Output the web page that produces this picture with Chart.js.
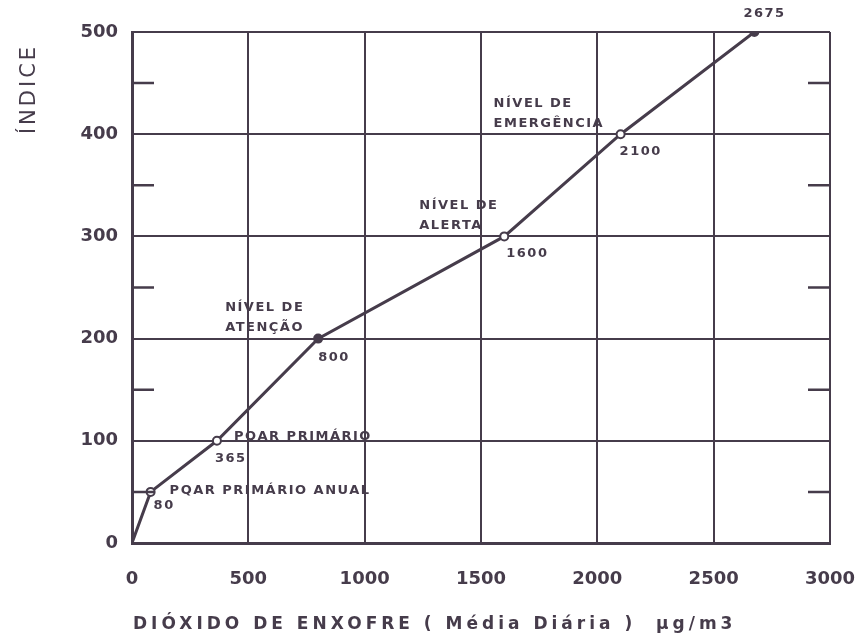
<!DOCTYPE html>
<html>
<head>
<meta charset="utf-8">
<script src="https://cdn.jsdelivr.net/npm/chart.js@4/dist/chart.umd.min.js"></script>
<style>
  html, body { margin: 0; padding: 0; background: #fff; }
  #wrap { width: 868px; height: 643px; position: relative; }
</style>
</head>
<body>
<div id="wrap"><canvas id="indexChart"></canvas></div>
<script>
// SO2 concentration (ug/m3, daily mean) vs air quality index
const so2Values   = [0, 80, 365, 800, 1600, 2100, 2675];
const indexValues = [0, 50, 100, 200, 300, 400, 500];

const xTickValues = [0, 500, 1000, 1500, 2000, 2500, 3000];
const yTickValues = [0, 100, 200, 300, 400, 500];
const yMinorTicks = [50, 150, 250, 350, 450];

const levelNames  = ['', 'PQAR PRIMÁRIO ANUAL', 'PQAR PRIMÁRIO', 'NÍVEL DE|ATENÇÃO', 'NÍVEL DE|ALERTA', 'NÍVEL DE|EMERGÊNCIA', ''];
const valueLabels = ['', '80', '365', '800', '1600', '2100', '2675'];

const xTitle = 'DIÓXIDO DE ENXOFRE ( Média Diária )  µg/m3';
const yTitle = 'ÍNDICE';

const INK = '#463c4b';

// where each note sits relative to its point [dx, dy]
const noteLayout = [
  null,
  { name: [19, -1],   value: [3, 14] },
  { name: [17, -4],   value: [-2, 18] },
  { name: [-93, -31], value: [0, 19] },
  { name: [-85, -31], value: [2, 17] },
  { name: [-127, -31], value: [-1, 17] },
  { name: null,       value: [-11, -18] },
];

const minorTicks = {
  id: 'minorTicks',
  afterDatasetsDraw(chart) {
    const { ctx, chartArea, scales } = chart;
    ctx.save();
    ctx.strokeStyle = INK;
    ctx.lineWidth = 2.5;
    yMinorTicks.forEach(v => {
      const y = scales.y.getPixelForValue(v);
      ctx.beginPath();
      ctx.moveTo(chartArea.left, y);
      ctx.lineTo(chartArea.left + 22, y);
      ctx.moveTo(chartArea.right, y);
      ctx.lineTo(chartArea.right - 22, y);
      ctx.stroke();
    });
    ctx.restore();
  }
};

const notes = {
  id: 'notes',
  afterDatasetsDraw(chart) {
    const { ctx, scales } = chart;
    ctx.save();
    ctx.fillStyle = INK;
    ctx.textAlign = 'left';
    ctx.textBaseline = 'middle';
    ctx.font = 'bold 13px "DejaVu Sans"';
    ctx.letterSpacing = '1.5px';
    so2Values.forEach((v, i) => {
      const lay = noteLayout[i];
      if (!lay) return;
      const px = scales.x.getPixelForValue(v);
      const py = scales.y.getPixelForValue(indexValues[i]);
      if (lay.name && levelNames[i]) {
        levelNames[i].split('|').forEach((line, k) => {
          ctx.fillText(line, px + lay.name[0], py + lay.name[1] + k * 20);
        });
      }
      if (lay.value && valueLabels[i]) {
        ctx.fillText(valueLabels[i], px + lay.value[0], py + lay.value[1]);
      }
    });
    ctx.restore();
  }
};

const axisTitles = {
  id: 'axisTitles',
  afterDraw(chart) {
    const { ctx, chartArea } = chart;
    ctx.save();
    ctx.fillStyle = INK;
    ctx.textBaseline = 'middle';
    ctx.font = '21px "DejaVu Sans"';
    ctx.letterSpacing = '3px';
    ctx.translate(30, 89);
    ctx.rotate(-Math.PI / 2);
    ctx.textAlign = 'center';
    ctx.fillText(yTitle, 0, 0);
    ctx.restore();

    ctx.save();
    ctx.fillStyle = INK;
    ctx.textBaseline = 'middle';
    ctx.textAlign = 'left';
    ctx.font = 'bold 17px "DejaVu Sans"';
    ctx.letterSpacing = '4px';
    ctx.fillText(xTitle, chartArea.left + 1, 625);
    ctx.restore();
  }
};

new Chart(document.getElementById('indexChart'), {
  type: 'line',
  data: {
    datasets: [{
      data: so2Values.map((x, i) => ({ x, y: indexValues[i] })),
      borderColor: INK,
      borderWidth: 3,
      tension: 0,
      pointRadius: ctx => (ctx.dataIndex === 0 ? 0 : 4),
      pointBackgroundColor: ctx => ([3, 6].includes(ctx.dataIndex) ? INK : '#fff'),
      pointBorderColor: INK,
      pointBorderWidth: 2,
    }]
  },
  options: {
    responsive: true,
    maintainAspectRatio: false,
    animation: false,
    layout: { padding: { top: 32, right: 38, left: 0, bottom: 0 } },
    plugins: { legend: { display: false }, tooltip: { enabled: false } },
    scales: {
      x: {
        type: 'linear',
        min: 0, max: 3000,
        afterFit(scale) {
          scale.height = 100;
          scale.paddingLeft = 0;
          scale.paddingRight = 0;
        },
        afterBuildTicks(scale) { scale.ticks = xTickValues.map(value => ({ value })); },
        grid: { color: INK, lineWidth: 2, drawTicks: false },
        border: { color: INK, width: 3 },
        ticks: {
          color: INK, padding: 26,
          font: { family: 'DejaVu Sans', size: 18, weight: 'bold' },
          maxRotation: 0,
          callback: v => String(v),
        }
      },
      y: {
        min: 0, max: 500,
        afterFit(scale) {
          scale.width = 132;
          scale.paddingTop = 0;
          scale.paddingBottom = 0;
        },
        afterBuildTicks(scale) { scale.ticks = yTickValues.map(value => ({ value })); },
        grid: { color: INK, lineWidth: 2, drawTicks: false },
        border: { color: INK, width: 3 },
        ticks: {
          color: INK, padding: 14,
          font: { family: 'DejaVu Sans', size: 18, weight: 'bold' },
          callback: v => String(v),
        }
      }
    }
  },
  plugins: [minorTicks, notes, axisTitles]
});
</script>
</body>
</html>
